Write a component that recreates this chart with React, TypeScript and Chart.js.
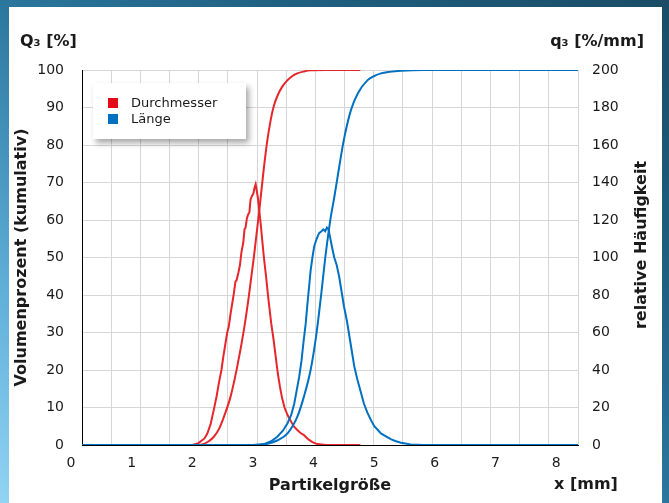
import React, { useEffect, useRef } from "react";
import { Chart, registerables } from "chart.js";

Chart.register(...registerables);

// ---------- data (x in mm) ----------
const X_MIN = 0.18;
const X_MAX = 8.36;
const xTickLabels = [0, 1, 2, 3, 4, 5, 6, 7, 8];
const yLeftTicks = { min: 0, max: 100, step: 10 };
const yRightTicks = { min: 0, max: 200, step: 20 };
const gridCount = 17;

// Durchmesser — relative Häufigkeit q3 [%/mm]
const dmDensX = [0.18, 2.0, 2.1, 2.2, 2.245, 2.3, 2.355, 2.4, 2.437, 2.48, 2.51, 2.545, 2.575, 2.6, 2.63, 2.66, 2.685, 2.71, 2.73, 2.76, 2.785, 2.81, 2.84, 2.86, 2.878, 2.9, 2.92, 2.94, 2.96, 2.985, 3.005, 3.025, 3.044, 3.06, 3.08, 3.1, 3.127, 3.15, 3.18, 3.215, 3.25, 3.3, 3.34, 3.375, 3.41, 3.445, 3.48, 3.52, 3.57, 3.62, 3.67, 3.73, 3.78, 3.84, 3.88, 3.925, 3.98, 4.06, 4.2, 4.77];
const dmDensY = [0, 0, 1, 3.5, 6, 11, 19, 26, 33, 40, 47, 54, 60, 63, 70, 76, 81, 87, 88, 92, 96, 103, 108, 115, 116, 121, 123, 124, 131, 133, 134, 137, 139, 136, 132, 126, 118, 110, 100, 90, 79, 65, 56, 47, 38, 31, 25, 20, 16, 13, 10, 8, 6.5, 5.3, 4, 2.7, 1.5, 0.5, 0, 0];

// Durchmesser — Volumenprozent kumulativ Q3 [%]
const dmCumX = [0.18, 2.1, 2.19, 2.27, 2.355, 2.44, 2.52, 2.63, 2.74, 2.85, 2.93, 3.015, 3.1, 3.17, 3.23, 3.29, 3.34, 3.4, 3.48, 3.57, 3.65, 3.73, 3.84, 3.95, 4.2, 4.77];
const dmCumY = [0, 0, 0.3, 1, 2.2, 4.3, 7.5, 12.9, 20.9, 30.7, 39.5, 50.2, 62, 72.5, 80.5, 86.5, 90.2, 93, 95.5, 97.3, 98.4, 99.1, 99.6, 99.9, 100, 100];

// Länge — relative Häufigkeit q3 [%/mm]
const lgDensX = [0.18, 3.0, 3.18, 3.3, 3.4, 3.49, 3.57, 3.63, 3.68, 3.72, 3.76, 3.8, 3.83, 3.87, 3.9, 3.93, 3.95, 3.98, 4.01, 4.05, 4.09, 4.13, 4.16, 4.19, 4.22, 4.245, 4.27, 4.3, 4.34, 4.38, 4.42, 4.46, 4.5, 4.55, 4.59, 4.63, 4.67, 4.72, 4.78, 4.83, 4.89, 4.95, 5.0, 5.06, 5.11, 5.2, 5.28, 5.36, 5.44, 5.6, 5.8, 8.36];
const lgDensY = [0, 0, 0.5, 2, 4.4, 7.5, 11.6, 16, 22, 29, 36, 45, 54, 65, 76, 86, 93, 100, 106, 110, 113, 114, 115, 114, 116, 115, 111, 106, 100, 96, 90, 82, 74, 66, 58, 50, 42, 35, 28, 22, 17, 13, 10, 8, 6.2, 4.5, 3, 2, 1.2, 0.3, 0, 0];

// Länge — Volumenprozent kumulativ Q3 [%]
const lgCumX = [0.18, 3.1, 3.24, 3.4, 3.57, 3.73, 3.84, 3.95, 4.04, 4.12, 4.2, 4.28, 4.34, 4.42, 4.5, 4.615, 4.73, 4.89, 5.0, 5.11, 5.25, 5.44, 5.82, 8.36];
const lgCumY = [0, 0, 0.3, 1.2, 3.1, 7.5, 12.9, 20, 28.9, 39.5, 51, 60.5, 66, 74, 81.5, 89.3, 93.8, 97.3, 98.4, 99.1, 99.5, 99.8, 100, 100];

const RED = "#e5262b";
const BLUE = "#0070c0";
const FONT = "'DejaVu Sans', Verdana, sans-serif";
const TEXT = "#1a1a1a";

const toPoints = (xs: number[], ys: number[]) => xs.map((x, i) => ({ x, y: ys[i] }));

const extraText = {
  id: "extraText",
  afterDraw(chart: any) {
    const ctx = chart.ctx as CanvasRenderingContext2D;
    ctx.save();
    ctx.fillStyle = TEXT;
    ctx.font = `bold 16px ${FONT}`;
    ctx.textBaseline = "middle";
    ctx.textAlign = "left";
    ctx.fillText("Q\u2083 [%]", 20, 42);
    ctx.textAlign = "right";
    ctx.fillText("q\u2083 [%/mm]", 644, 42);
    ctx.textAlign = "center";
    ctx.fillText("x [mm]", 586, 485);
    ctx.translate(642, 245);
    ctx.rotate(-Math.PI / 2);
    ctx.fillText("relative Häufigkeit", 0, 0);
    ctx.restore();
  },
};

export default function App() {
  const ref = useRef<HTMLCanvasElement>(null);

  useEffect(() => {
    if (!ref.current) return;
    Chart.defaults.font.family = FONT;
    const chart = new Chart(ref.current, {
      type: "line",
      data: {
        datasets: [
          {
            label: "Länge Q3",
            data: toPoints(lgCumX, lgCumY),
            borderColor: BLUE,
            borderWidth: 2,
            pointRadius: 0,
            tension: 0.3,
            cubicInterpolationMode: "monotone",
            xAxisID: "x",
            yAxisID: "y",
            order: 0,
          },
          {
            label: "Länge q3",
            data: toPoints(lgDensX, lgDensY),
            borderColor: BLUE,
            borderWidth: 2,
            pointRadius: 0,
            tension: 0,
            xAxisID: "x",
            yAxisID: "y2",
            order: 1,
          },
          {
            label: "Durchmesser Q3",
            data: toPoints(dmCumX, dmCumY),
            borderColor: RED,
            borderWidth: 2,
            pointRadius: 0,
            tension: 0.3,
            cubicInterpolationMode: "monotone",
            xAxisID: "x",
            yAxisID: "y",
            order: 2,
          },
          {
            label: "Durchmesser q3",
            data: toPoints(dmDensX, dmDensY),
            borderColor: RED,
            borderWidth: 2,
            pointRadius: 0,
            tension: 0,
            xAxisID: "x",
            yAxisID: "y2",
            order: 3,
          },
        ],
      },
      options: {
        responsive: false,
        maintainAspectRatio: false,
        animation: false,
        events: [],
        layout: { padding: { top: 70, left: 0, right: 0, bottom: 0 } },
        plugins: { legend: { display: false }, tooltip: { enabled: false } },
        scales: {
          x: {
            type: "linear",
            position: "bottom",
            weight: 0,
            min: X_MIN,
            max: X_MAX,
            afterBuildTicks: (scale: any) => {
              const step = (X_MAX - X_MIN) / gridCount;
              scale.ticks = Array.from({ length: gridCount + 1 }, (_, i) => ({ value: X_MIN + i * step }));
            },
            afterFit: (scale: any) => {
              scale.height = 0;
            },
            ticks: { display: false, autoSkip: false },
            grid: { color: "#d6d6d6", lineWidth: 1, drawTicks: false },
            border: { display: true, color: "#000", width: 1 },
          },
          xl: {
            type: "linear",
            position: "bottom",
            weight: 1,
            min: 0,
            max: X_MAX - X_MIN,
            afterBuildTicks: (scale: any) => {
              scale.ticks = xTickLabels.map((v) => ({ value: v }));
            },
            afterFit: (scale: any) => {
              scale.height = 58;
            },
            ticks: {
              autoSkip: false,
              maxRotation: 0,
              labelOffset: -11,
              padding: 10,
              color: TEXT,
              font: { size: 14, family: FONT },
              callback: (v: any) => String(v),
            },
            grid: { display: false, drawTicks: false },
            border: { display: false },
            title: {
              display: true,
              text: "Partikelgröße",
              color: TEXT,
              font: { size: 16, weight: "bold", family: FONT },
              padding: { top: 0, bottom: 8 },
            },
          },
          y: {
            type: "linear",
            position: "left",
            min: yLeftTicks.min,
            max: yLeftTicks.max,
            afterFit: (scale: any) => {
              scale.width = 82;
            },
            ticks: {
              stepSize: yLeftTicks.step,
              padding: 18,
              color: TEXT,
              font: { size: 14, family: FONT },
            },
            grid: { color: "#d6d6d6", lineWidth: 1, drawTicks: false },
            border: { display: true, color: "#000", width: 1 },
            title: {
              display: true,
              text: "Volumenprozent (kumulativ)",
              color: TEXT,
              font: { size: 16, weight: "bold", family: FONT },
              padding: { top: 12, bottom: 0 },
            },
          },
          y2: {
            type: "linear",
            position: "right",
            min: yRightTicks.min,
            max: yRightTicks.max,
            afterFit: (scale: any) => {
              scale.width = 91;
            },
            ticks: {
              stepSize: yRightTicks.step,
              padding: 14,
              color: TEXT,
              font: { size: 14, family: FONT },
            },
            grid: { display: false, drawTicks: false },
            border: { display: false },
          },
        },
      },
      plugins: [extraText],
    } as any);
    return () => chart.destroy();
  }, []);

  const legendItem = (color: string, label: string, top: number) => (
    <div style={{ position: "absolute", left: 0, top, height: 16, width: 153 }}>
      <div style={{ position: "absolute", left: 15, top: 3, width: 10, height: 10, background: color }} />
      <div
        style={{
          position: "absolute",
          left: 38,
          top: 0,
          lineHeight: "16px",
          fontSize: 13,
          fontFamily: FONT,
          color: TEXT,
          whiteSpace: "nowrap",
        }}
      >
        {label}
      </div>
    </div>
  );

  return (
    <div
      style={{
        position: "fixed",
        left: 0,
        top: 0,
        width: 669,
        height: 503,
        overflow: "hidden",
        background: "linear-gradient(to top right, #92d4f3 0%, #5eaed8 22%, #2b769d 50%, #1f5f80 72%, #1a4c66 100%)",
      }}
    >
      <div style={{ position: "absolute", left: 9, top: 7, width: 653, height: 500, background: "#ffffff" }} />
      <canvas ref={ref} width={669} height={503} style={{ position: "absolute", left: 0, top: 0 }} />
      <div
        style={{
          position: "absolute",
          left: 93,
          top: 83,
          width: 153,
          height: 56,
          background: "#ffffff",
          boxShadow: "3px 4px 6px rgba(0,0,0,0.35)",
        }}
      >
        {legendItem("#e30b17", "Durchmesser", 12)}
        {legendItem(BLUE, "Länge", 28)}
      </div>
    </div>
  );
}
